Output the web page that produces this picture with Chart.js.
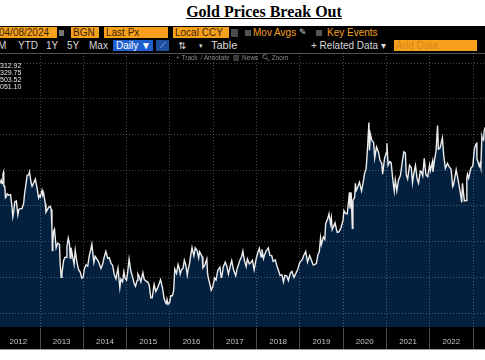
<!DOCTYPE html>
<html>
<head>
<meta charset="utf-8">
<script src="https://cdn.jsdelivr.net/npm/chart.js@4"></script>
<style>
    body { margin: 0; width: 485px; height: 360px; overflow: hidden; position: relative; background: #fff; font-family: "Liberation Sans", Arial, sans-serif; }
    #title { position: absolute; left: 0; top: 3px; width: 528px; text-align: center; font: bold 16px "Liberation Serif", "Times New Roman", serif; text-decoration: underline; color: #000; }
    #panel { position: absolute; left: 0; top: 26px; width: 485px; height: 323px; background: #000; border-bottom: 1px solid #9a9a9a; }
    .t { position: absolute; font-size: 10px; line-height: 11px; height: 11px; white-space: nowrap; }
    .ob { background: #f6a01c; color: #3a2300; padding-left: 2px; box-sizing: border-box; }
    .gr { color: #d8d8d8; }
    .amb { color: #f6a01c; }
    .chk { position: absolute; width: 6px; height: 6px; background: #555; }
    .small { position: absolute; font-size: 6.5px; color: #8a8a8a; white-space: nowrap; }
    .stat { position: absolute; left: 0; font-size: 7px; line-height: 7px; color: #e6e6e6; }
    #wrap { position: absolute; left: 0; top: 53px; width: 485px; height: 297px; }
</style>
</head>
<body>
<div id="title">Gold Prices Break Out</div>
<div id="panel"></div>

<!-- toolbar row 1 -->
<div class="t ob" style="left:-3px;top:27px;width:60px;">04/08/2024</div>
<div class="chk" style="left:59px;top:30px;width:5px;height:6px;background:#777;"></div>
<div class="t ob" style="left:71px;top:27px;width:28px;">BGN</div>
<div class="t ob" style="left:104px;top:27px;width:64px;">Last Px</div>
<div class="t ob" style="left:173px;top:27px;width:56px;">Local CCY</div>
<div class="chk" style="left:231px;top:29px;width:7px;height:8px;background:#4a4a4a;"></div>
<div class="chk" style="left:245px;top:30px;"></div>
<div class="t amb" style="left:253px;top:27px;">Mov Avgs</div>
<div class="t gr" style="left:299px;top:27px;font-size:9px;">✎</div>
<div class="chk" style="left:316px;top:30px;"></div>
<div class="t amb" style="left:327px;top:27px;">Key Events</div>

<!-- toolbar row 2 -->
<div class="t gr" style="left:-2px;top:40px;">M</div>
<div class="t gr" style="left:18px;top:40px;">YTD</div>
<div class="t gr" style="left:46px;top:40px;">1Y</div>
<div class="t gr" style="left:67px;top:40px;">5Y</div>
<div class="t gr" style="left:89px;top:40px;">Max</div>
<div class="t" style="left:113px;top:40px;width:40px;background:#1f5fcf;color:#fff;padding-left:3px;box-sizing:border-box;">Daily ▼</div>
<div class="t" style="left:156px;top:40px;width:13px;background:#1c4f9e;color:#cfe0ff;font-size:8px;text-align:center;">⟋</div>
<div class="t gr" style="left:178px;top:40px;">⇅</div>
<div class="t gr" style="left:199px;top:40px;font-size:7px;">▾</div>
<div class="t gr" style="left:211px;top:40px;font-size:11px;">Table</div>
<div class="t gr" style="left:311px;top:40px;">+ Related Data ▾</div>
<div class="t ob" style="left:394px;top:40px;width:83px;color:#d9861a;">Add Data</div>

<div id="wrap"><canvas id="gold" width="485" height="297"></canvas></div>

<!-- toolbar row 3 overlay -->
<div class="small" style="left:176px;top:54px;">+ Track &nbsp;⁄ Annotate &nbsp;▥ News &nbsp;🔍︎ Zoom</div>

<!-- stats box -->
<div class="stat" style="top:62px;">312.92</div>
<div class="stat" style="top:69px;">329.75</div>
<div class="stat" style="top:76px;">503.52</div>
<div class="stat" style="top:83px;">051.10</div>

<script>
const years = [2012, 2013, 2014, 2015, 2016, 2017, 2018, 2019, 2020, 2021, 2022, 2023];
const priceGrid = [1000, 1200, 1400, 1600, 1800, 2000, 2200, 2400];

const dates = [
    "2012-01-27", "2012-02-08", "2012-02-15", "2012-02-23", "2012-02-28", "2012-03-01", "2012-03-09", "2012-03-15", "2012-03-22", "2012-03-30",
    "2012-04-13", "2012-04-27", "2012-05-09", "2012-05-16", "2012-05-25", "2012-06-01", "2012-06-15", "2012-06-28", "2012-07-06", "2012-07-20",
    "2012-08-02", "2012-08-16", "2012-08-24", "2012-09-07", "2012-09-14", "2012-09-28", "2012-10-04", "2012-10-19", "2012-10-26", "2012-11-09",
    "2012-11-23", "2012-12-07", "2012-12-20", "2012-12-28",
    "2013-01-04", "2013-01-18", "2013-01-25", "2013-02-01", "2013-02-15", "2013-02-20", "2013-03-01", "2013-03-15", "2013-03-29", "2013-04-05",
    "2013-04-11", "2013-04-12", "2013-04-15", "2013-04-19", "2013-04-26", "2013-05-03", "2013-05-17", "2013-05-31", "2013-06-14", "2013-06-20",
    "2013-06-28", "2013-07-05", "2013-07-19", "2013-07-31", "2013-08-09", "2013-08-16", "2013-08-27", "2013-09-06", "2013-09-13", "2013-09-19",
    "2013-09-30", "2013-10-15", "2013-10-25", "2013-11-08", "2013-11-22", "2013-12-06", "2013-12-19", "2013-12-31",
    "2014-01-10", "2014-01-24", "2014-02-07", "2014-02-21", "2014-03-03", "2014-03-14", "2014-03-31", "2014-04-11", "2014-04-25", "2014-05-09",
    "2014-05-30", "2014-06-13", "2014-06-27", "2014-07-10", "2014-07-25", "2014-08-08", "2014-08-22", "2014-09-05", "2014-09-19", "2014-10-03",
    "2014-10-20", "2014-11-05", "2014-11-14", "2014-11-28", "2014-12-09", "2014-12-19", "2014-12-31",
    "2015-01-09", "2015-01-22", "2015-02-06", "2015-02-20", "2015-03-06", "2015-03-17", "2015-03-31", "2015-04-06", "2015-04-17", "2015-05-01",
    "2015-05-18", "2015-05-29", "2015-06-12", "2015-06-30", "2015-07-10", "2015-07-24", "2015-08-05", "2015-08-21", "2015-09-04", "2015-09-18",
    "2015-10-14", "2015-10-30", "2015-11-13", "2015-11-27", "2015-12-03", "2015-12-08", "2015-12-17", "2015-12-31",
    "2016-01-08", "2016-01-22", "2016-02-02", "2016-02-11", "2016-02-26", "2016-03-10", "2016-03-18", "2016-03-28", "2016-04-08", "2016-04-21",
    "2016-05-02", "2016-05-13", "2016-05-27", "2016-06-03", "2016-06-16", "2016-06-24", "2016-07-06", "2016-07-22", "2016-08-02", "2016-08-18",
    "2016-08-31", "2016-09-08", "2016-09-30", "2016-10-06", "2016-10-21", "2016-11-08", "2016-11-14", "2016-11-25", "2016-12-01", "2016-12-15",
    "2016-12-30",
    "2017-01-13", "2017-01-25", "2017-02-09", "2017-02-27", "2017-03-09", "2017-03-14", "2017-03-27", "2017-04-12", "2017-04-25", "2017-05-09",
    "2017-05-26", "2017-06-06", "2017-06-20", "2017-07-03", "2017-07-10", "2017-07-20", "2017-08-01", "2017-08-11", "2017-08-29", "2017-09-08",
    "2017-09-21", "2017-10-06", "2017-10-16", "2017-11-01", "2017-11-15", "2017-11-28", "2017-12-12", "2017-12-29",
    "2018-01-12", "2018-01-25", "2018-02-08", "2018-02-16", "2018-03-01", "2018-03-09", "2018-03-23", "2018-04-11", "2018-04-24", "2018-05-10",
    "2018-05-21", "2018-06-08", "2018-06-21", "2018-07-03", "2018-07-19", "2018-08-03", "2018-08-16", "2018-08-28", "2018-09-12", "2018-09-27",
    "2018-10-12", "2018-10-26", "2018-11-13", "2018-11-28", "2018-12-13", "2018-12-31",
    "2019-01-04", "2019-01-25", "2019-02-01", "2019-02-20", "2019-03-07", "2019-03-25", "2019-04-23", "2019-05-02", "2019-05-20", "2019-06-03",
    "2019-06-14", "2019-06-25", "2019-07-02", "2019-07-19", "2019-07-31", "2019-08-07", "2019-08-23", "2019-09-04", "2019-09-17", "2019-09-24",
    "2019-10-01", "2019-10-25", "2019-11-07", "2019-11-12", "2019-11-27", "2019-12-13", "2019-12-31",
    "2020-01-08", "2020-01-21", "2020-02-05", "2020-02-24", "2020-02-28", "2020-03-09", "2020-03-19", "2020-03-24", "2020-04-07", "2020-04-14",
    "2020-04-21", "2020-05-01", "2020-05-18", "2020-06-05", "2020-06-17", "2020-06-30", "2020-07-14", "2020-07-27", "2020-08-06", "2020-08-11",
    "2020-08-18", "2020-08-31", "2020-09-15", "2020-09-24", "2020-10-09", "2020-10-26", "2020-11-09", "2020-11-23", "2020-11-30", "2020-12-16",
    "2020-12-31",
    "2021-01-05", "2021-01-15", "2021-01-29", "2021-02-10", "2021-02-26", "2021-03-08", "2021-03-17", "2021-03-30", "2021-04-13", "2021-04-29",
    "2021-05-14", "2021-05-28", "2021-06-10", "2021-06-17", "2021-06-29", "2021-07-15", "2021-07-30", "2021-08-09", "2021-08-20", "2021-09-03",
    "2021-09-16", "2021-09-29", "2021-10-14", "2021-10-22", "2021-11-03", "2021-11-16", "2021-11-30", "2021-12-15", "2021-12-31",
    "2022-01-07", "2022-01-25", "2022-01-28", "2022-02-11", "2022-02-24", "2022-03-08", "2022-03-15", "2022-03-28", "2022-04-18", "2022-04-28",
    "2022-05-13", "2022-05-31", "2022-06-13", "2022-06-30", "2022-07-14", "2022-07-21", "2022-08-12", "2022-08-25", "2022-09-16", "2022-09-28",
    "2022-10-04", "2022-10-20", "2022-11-03", "2022-11-10", "2022-11-15", "2022-11-25", "2022-12-13", "2022-12-30",
    "2023-01-13", "2023-01-26", "2023-02-02", "2023-02-03", "2023-02-23", "2023-03-01", "2023-03-08", "2023-03-17", "2023-03-20", "2023-03-31",
    "2023-04-05", "2023-04-13", "2023-04-20"
];

const prices = [
    1725, 1745, 1725, 1780, 1790, 1712, 1710, 1645, 1650, 1668,
    1660, 1663, 1595, 1540, 1575, 1622, 1628, 1550, 1580, 1585,
    1585, 1615, 1670, 1735, 1770, 1775, 1790, 1725, 1710, 1730,
    1750, 1700, 1645, 1658,
    1650, 1687, 1660, 1670, 1610, 1565, 1575, 1592, 1598, 1580,
    1560, 1480, 1350, 1400, 1460, 1470, 1365, 1392, 1385, 1280,
    1200, 1222, 1295, 1313, 1312, 1370, 1420, 1390, 1308, 1366,
    1327, 1272, 1352, 1286, 1243, 1230, 1195, 1202,
    1248, 1270, 1262, 1323, 1350, 1385, 1284, 1318, 1303, 1288,
    1250, 1274, 1316, 1345, 1307, 1310, 1280, 1268, 1216, 1192,
    1250, 1142, 1190, 1175, 1232, 1195, 1184,
    1222, 1302, 1234, 1203, 1165, 1150, 1183, 1219, 1204, 1175,
    1226, 1190, 1180, 1172, 1158, 1085, 1085, 1160, 1121, 1138,
    1187, 1142, 1081, 1056, 1052, 1076, 1050, 1061,
    1097, 1097, 1128, 1247, 1222, 1272, 1255, 1218, 1243, 1250,
    1295, 1272, 1212, 1243, 1280, 1320, 1367, 1320, 1365, 1350,
    1308, 1343, 1315, 1253, 1267, 1303, 1222, 1183, 1170, 1128,
    1151,
    1196, 1185, 1240, 1257, 1200, 1203, 1258, 1285, 1265, 1218,
    1267, 1294, 1245, 1220, 1209, 1245, 1269, 1290, 1318, 1347,
    1294, 1260, 1303, 1276, 1283, 1295, 1242, 1303,
    1338, 1362, 1315, 1356, 1305, 1324, 1347, 1365, 1323, 1320,
    1290, 1298, 1266, 1242, 1211, 1214, 1174, 1211, 1209, 1182,
    1222, 1233, 1200, 1221, 1242, 1282,
    1285, 1303, 1320, 1345, 1285, 1322, 1270, 1270, 1277, 1328,
    1341, 1420, 1383, 1426, 1413, 1500, 1526, 1555, 1500, 1533,
    1468, 1505, 1466, 1452, 1455, 1476, 1517,
    1574, 1558, 1555, 1676, 1585, 1675, 1474, 1632, 1647, 1727,
    1686, 1700, 1733, 1684, 1726, 1781, 1810, 1942, 2067, 1911,
    2003, 1967, 1955, 1868, 1930, 1901, 1854, 1837, 1777, 1864,
    1898,
    1950, 1828, 1848, 1842, 1734, 1683, 1745, 1684, 1745, 1770,
    1843, 1903, 1896, 1775, 1751, 1828, 1813, 1729, 1781, 1827,
    1754, 1727, 1796, 1793, 1769, 1866, 1775, 1764, 1829,
    1797, 1850, 1791, 1859, 1910, 2050, 1918, 1922, 1980, 1890,
    1810, 1838, 1820, 1807, 1708, 1718, 1802, 1758, 1675, 1620,
    1727, 1628, 1630, 1755, 1777, 1755, 1810, 1824,
    1920, 1946, 1950, 1865, 1822, 1836, 1814, 1989, 1980, 1969,
    2020, 2040, 2004
];

const statValues = ["312.92", "329.75", "503.52", "051.10"];

function toYear(s) {
    const [y, m, d] = s.split("-").map(Number);
    const a = Date.UTC(y, 0, 1), b = Date.UTC(y + 1, 0, 1);
    return y + (Date.UTC(y, m - 1, d) - a) / (b - a);
}

const gridColor = "rgba(255,255,255,0.28)";

new Chart(document.getElementById("gold"), {
    type: "line",
    data: {
        datasets: [{
            data: dates.map((d, i) => ({ x: toYear(d), y: prices[i] })),
            borderColor: "#ececec",
            borderWidth: 1.4,
            backgroundColor: "#04203f",
            fill: "start",
            pointRadius: 0,
            tension: 0
        }]
    },
    options: {
        responsive: false,
        animation: false,
        layout: { padding: 0 },
        plugins: {
            legend: { display: false },
            tooltip: { enabled: false }
        },
        scales: {
            x: {
                type: "linear",
                min: 2012.076,
                max: 2023.277,
                afterBuildTicks: (s) => { s.ticks = years.map(v => ({ value: v })); },
                afterFit: (s) => { s.height = 23; s.paddingLeft = 0; s.paddingRight = 0; },
                grid: { color: gridColor, tickLength: 22, tickColor: "#4a4a4a", tickBorderDash: [1, 0], z: 1 },
                border: { color: "#a0a0a0", dash: [1, 2] },
                ticks: {
                    autoSkip: false,
                    maxRotation: 0,
                    labelOffset: 21.65,
                    padding: -12,
                    color: "#c4c4c4",
                    font: { size: 8, family: "Liberation Sans" },
                    callback: (v) => String(v)
                }
            },
            y: {
                position: "right",
                min: 922,
                max: 2456,
                afterBuildTicks: (s) => { s.ticks = priceGrid.map(v => ({ value: v })); },
                afterFit: (s) => { s.width = 0; },
                ticks: { display: false },
                grid: { color: gridColor, drawTicks: false, z: 1 },
                border: { display: false, dash: [1, 2] }
            }
        }
    }
});
</script>
</body>
</html>
